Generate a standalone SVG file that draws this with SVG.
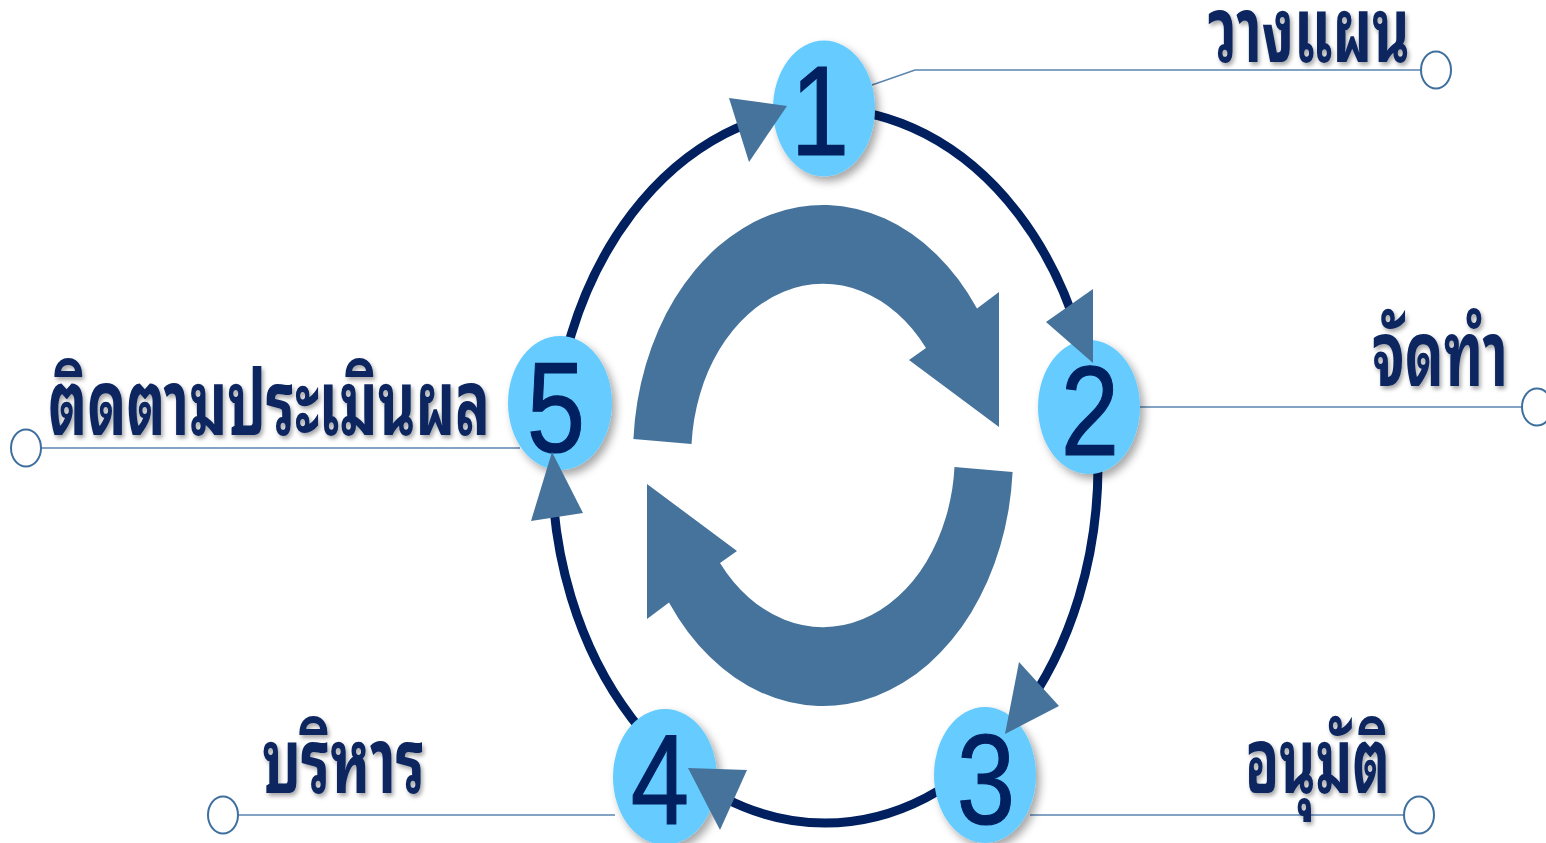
<svg xmlns="http://www.w3.org/2000/svg" width="1546" height="843" viewBox="0 0 1546 843">
<defs>
<filter id="nodeShadow" x="-30%" y="-30%" width="160%" height="160%">
<feDropShadow dx="4" dy="5" stdDeviation="4" flood-color="#000" flood-opacity="0.35"/>
</filter>
<filter id="textShadow" x="-10%" y="-30%" width="120%" height="160%">
<feDropShadow dx="2" dy="3" stdDeviation="2" flood-color="#000" flood-opacity="0.35"/>
</filter>
</defs>
<style>
.ring{fill:none;stroke:#002060;stroke-width:9}
.head{fill:#45739b}
.cyc{fill:#45739b}
.lead{fill:none;stroke:#5a85b0;stroke-width:1.5}
.end{fill:#fff;stroke:#3f6f9e;stroke-width:2}
.node{fill:#66ccff;filter:url(#nodeShadow)}
.num{font-family:"Liberation Sans",Arial,sans-serif;font-size:128px;fill:#002060;stroke:#002060;stroke-width:1.2;text-anchor:middle}
.lbl{font-family:"Noto Sans Thai Looped","Noto Sans Thai","Noto Sans","DejaVu Sans",sans-serif;font-weight:bold;font-size:90px;fill:#0a2560;filter:url(#textShadow)}
</style>
<rect width="1546" height="843" fill="#fff"/>
<g id="center-cycle">
<path class="cyc" d="M 633.4,439 A 190 250 0 0 1 977,308.5 L 999,292 L 999,427 L 909,360 L 926,348 A 132 172 0 0 0 691.5,444 Z"/>
<path class="cyc" transform="rotate(180 823 455.5)" d="M 633.4,439 A 190 250 0 0 1 977,308.5 L 999,292 L 999,427 L 909,360 L 926,348 A 132 172 0 0 0 691.5,444 Z"/>
</g>
<g id="connectors">
<ellipse class="ring" cx="825" cy="466" rx="273" ry="357"/>
<polyline class="lead" points="872,85 915,70 1421,70"/>
<line class="lead" x1="1140" y1="407" x2="1522" y2="407"/>
<line class="lead" x1="1030" y1="815" x2="1404" y2="815"/>
<line class="lead" x1="238" y1="815" x2="615" y2="815"/>
<line class="lead" x1="41" y1="448" x2="520" y2="448"/>
<ellipse class="end" cx="1436" cy="70" rx="15" ry="18.5"/>
<ellipse class="end" cx="1537" cy="407" rx="15" ry="18.5"/>
<ellipse class="end" cx="1419" cy="815" rx="15" ry="18.5"/>
<ellipse class="end" cx="223" cy="815" rx="15" ry="18.5"/>
<ellipse class="end" cx="26" cy="448" rx="15" ry="18.5"/>
</g>
<g id="node1">
<ellipse class="node" cx="824" cy="108.5" rx="51" ry="68"/>
<text class="num" transform="translate(820,155) scale(0.82,1)">1</text>
</g>
<g id="node2">
<ellipse class="node" cx="1089" cy="407" rx="51" ry="67"/>
<text class="num" transform="translate(1090,455) scale(0.82,1)">2</text>
</g>
<g id="node3">
<ellipse class="node" cx="985" cy="775" rx="51" ry="68"/>
<text class="num" transform="translate(986,824) scale(0.82,1)">3</text>
</g>
<g id="node4">
<ellipse class="node" cx="665" cy="777" rx="52" ry="68"/>
<text class="num" transform="translate(660,824) scale(0.82,1)">4</text>
</g>
<g id="node5">
<ellipse class="node" cx="560" cy="403" rx="52" ry="67"/>
<text class="num" transform="translate(556,452) scale(0.82,1)">5</text>
</g>
<g id="arrowheads">
<polygon class="head" points="729,98 787,106 749,162"/>
<polygon class="head" points="1093,289 1046,322 1093,363"/>
<polygon class="head" points="1019,662 1059,706 1005,734"/>
<polygon class="head" points="688,768 747,770 720,830"/>
<polygon class="head" points="552,452 583,513 531,521"/>
</g>
<g id="labels">
<text class="lbl" x="1208" y="62" textLength="202" lengthAdjust="spacingAndGlyphs">วางแผน</text>
<text class="lbl" x="1372" y="386" textLength="136" lengthAdjust="spacingAndGlyphs">จัดทำ</text>
<text class="lbl" x="1245" y="793" textLength="145" lengthAdjust="spacingAndGlyphs">อนุมัติ</text>
<text class="lbl" x="262" y="793" textLength="163" lengthAdjust="spacingAndGlyphs">บริหาร</text>
<text class="lbl" x="48" y="435" textLength="442" lengthAdjust="spacingAndGlyphs">ติดตามประเมินผล</text>
</g>
</svg>
